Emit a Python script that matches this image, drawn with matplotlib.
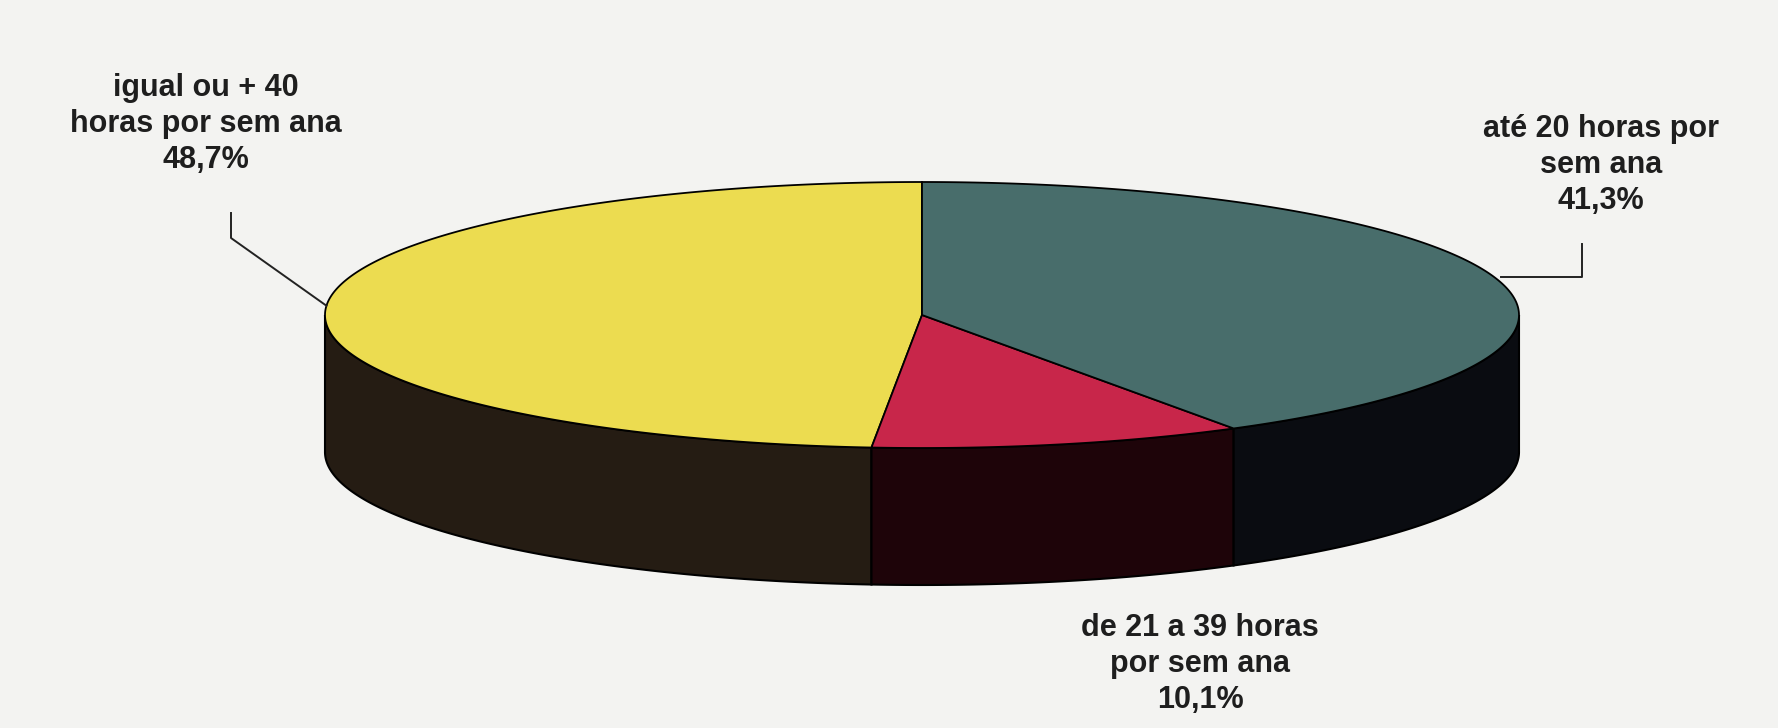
import numpy as np
import matplotlib.pyplot as plt
from matplotlib.patches import Polygon

# horas de trabalho por semana
categories = ["igual ou + 40\nhoras por sem ana",
              "de 21 a 39 horas\npor sem ana",
              "até 20 horas por\nsem ana"]
shares = [48.7, 10.1, 41.3]

top_colors = ["#ecdc50", "#c8264a", "#486d6b"]
side_colors = ["#251c13", "#1e0409", "#0a0c11"]

# pie geometry in pixel units
cx, cy = 922, 315
rx, ry = 597, 133
depth = 137


def rim(t):
    r = np.radians(t)
    return cx + rx * np.cos(r), cy - ry * np.sin(r)


fig = plt.figure(figsize=(17.78, 7.28), dpi=100)
fig.patch.set_facecolor("#f3f3f1")
ax = fig.add_axes([0, 0, 1, 1])
ax.set_xlim(0, 1778)
ax.set_ylim(728, 0)
ax.axis("off")

edges = 90 + 360 * np.concatenate([[0], np.cumsum(shares)]) / sum(shares)

# side walls (only the front half of the cylinder is visible)
for i in range(len(shares)):
    a0, a1 = edges[i], edges[i + 1]
    for f0, f1 in [(180, 360), (540, 720)]:
        lo, hi = max(a0, f0), min(a1, f1)
        if hi <= lo:
            continue
        t = np.linspace(lo, hi, 200)
        x, y = rim(t)
        pts = np.vstack([np.column_stack([x, y]),
                         np.column_stack([x[::-1], y[::-1] + depth])])
        ax.add_patch(Polygon(pts, closed=True, facecolor=side_colors[i],
                             edgecolor="black", lw=1.5, zorder=2))

# top face wedges
for i in range(len(shares)):
    t = np.linspace(edges[i], edges[i + 1], 300)
    x, y = rim(t)
    pts = np.vstack([[cx, cy], np.column_stack([x, y])])
    ax.add_patch(Polygon(pts, closed=True, facecolor=top_colors[i],
                         edgecolor="black", lw=1.3, zorder=3))

labels = [c + "\n" + f"{s:.1f}%".replace(".", ",") for c, s in zip(categories, shares)]
label_xy = [(206, 124), (1200, 664), (1601, 165)]
for lab, (lx, ly) in zip(labels, label_xy):
    ax.text(lx, ly, lab, ha="center", va="center", fontsize=22,
            fontweight="bold", family="Liberation Sans", color="#1e1e1e",
            linespacing=1.28, zorder=5)

# leader lines
ex, ey = rim(176)
ax.plot([231, 231, ex], [213, 238, ey], color="#222222", lw=1.4, zorder=4)
ex, ey = rim(14)
ax.plot([1582, 1582, ex], [244, 277, 277], color="#222222", lw=1.4, zorder=4)

fig.savefig("out.png", dpi=100, facecolor=fig.get_facecolor())
